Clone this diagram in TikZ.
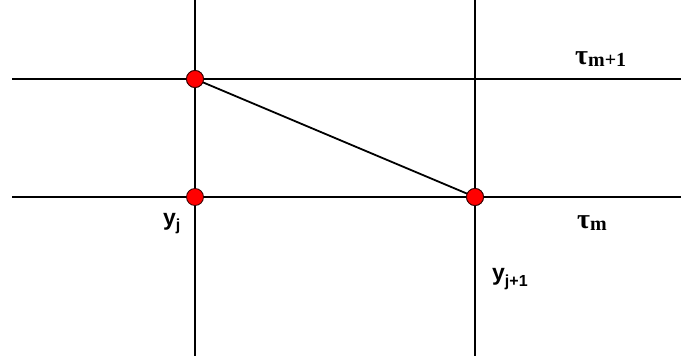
\documentclass[tikz,border=0pt]{standalone}
\usepackage{fontspec}
\setmainfont{Liberation Serif}
\newfontfamily\lsans{Liberation Sans}
\begin{document}
\begin{tikzpicture}[x=1pt,y=-1pt,
  gridline/.style={line width=2pt,black},
  dot/.style={circle,fill=red,draw=black!80!red,line width=0.8pt,minimum size=17pt,inner sep=0pt},
  lab/.style={inner sep=0pt,anchor=base west}]
\useasboundingbox (0,0) rectangle (681,356);
% grid coordinates
\coordinate (hTl) at (12,79);
\coordinate (hTr) at (681,79);
\coordinate (hBl) at (12,197);
\coordinate (hBr) at (681,197);
\coordinate (vLt) at (195,0);
\coordinate (vLb) at (195,356);
\coordinate (vRt) at (475,0);
\coordinate (vRb) at (475,356);
\draw[gridline] (hTl) -- (hTr);
\draw[gridline] (hBl) -- (hBr);
\draw[gridline] (vLt) -- (vLb);
\draw[gridline] (vRt) -- (vRb);
% dots
\node[dot] (a) at (195,79) {};
\node[dot] (b) at (195,197) {};
\node[dot] (c) at (475,197) {};
\draw[line width=1.8pt] (a.center) -- (c.center);
\node[dot] at (a) {};
\node[dot] at (c) {};
% labels
\node[lab] (t1) at (575,64) {\bfseries\fontsize{28}{28}\selectfont τ\raisebox{-2pt}{\fontsize{20}{20}\selectfont m+1}};
\node[lab] (t0) at (577,228) {\bfseries\fontsize{28}{28}\selectfont τ\raisebox{-2pt}{\fontsize{20}{20}\selectfont m}};
\node[lab] (yj) at (163,225) {\lsans\bfseries\fontsize{23}{23}\selectfont y\raisebox{-5pt}{\fontsize{16}{16}\selectfont j}};
\node[lab] (yj1) at (492,280) {\lsans\bfseries\fontsize{23}{23}\selectfont y\raisebox{-6pt}{\fontsize{16}{16}\selectfont j+1}};
\end{tikzpicture}
\end{document}
